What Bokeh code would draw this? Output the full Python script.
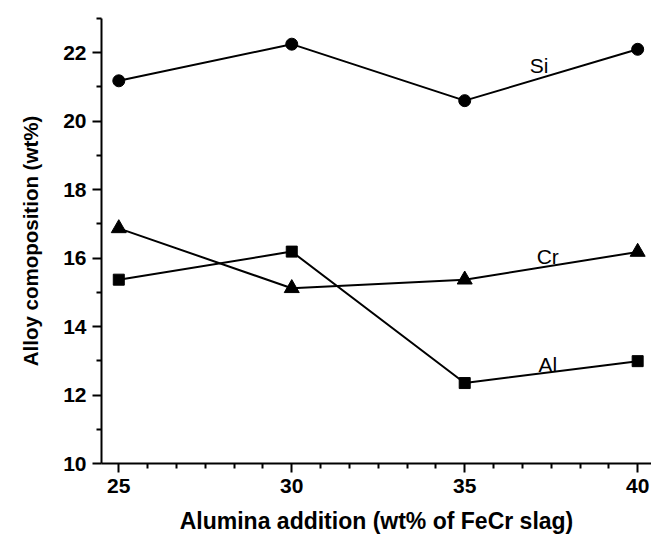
from bokeh.plotting import figure
from bokeh.models import FixedTicker, Range1d, ColumnDataSource
from bokeh.core.properties import value
from bokeh.embed import file_html
from bokeh.resources import INLINE

alumina = [25, 30, 35, 40]
si = [21.18, 22.25, 20.60, 22.10]
cr = [16.87, 15.12, 15.37, 16.18]
al = [15.37, 16.19, 12.35, 12.99]

series_names = ["Si", "Cr", "Al"]
label_x = [37.15, 37.4, 37.4]
label_y = [21.62, 16.05, 12.9]

x_major = [25, 30, 35, 40]
y_major = [10, 12, 14, 16, 18, 20, 22]

FONT = "Liberation Sans"

p = figure(width=651, height=537, output_backend="svg", toolbar_location=None,
           x_range=Range1d(24.5, 40.4), y_range=Range1d(10, 23),
           min_border_left=101, min_border_right=0, min_border_top=18,
           min_border_bottom=74)
p.outline_line_color = None
p.background_fill_color = "white"
p.border_fill_color = "white"
p.xgrid.visible = False
p.ygrid.visible = False

minor_x = [25 + 5 * k / 6 for k in range(0, 19) if k % 6 != 0]
p.xaxis.ticker = FixedTicker(ticks=x_major, minor_ticks=minor_x)
p.yaxis.ticker = FixedTicker(ticks=y_major, minor_ticks=[11, 13, 15, 17, 19, 21, 23])

for ax in (p.xaxis, p.yaxis):
    ax.axis_line_width = 2
    ax.axis_line_color = "black"
    ax.major_tick_line_width = 2
    ax.minor_tick_line_width = 2
    ax.major_tick_line_color = "black"
    ax.minor_tick_line_color = "black"
    ax.major_tick_out = 9
    ax.major_tick_in = 0
    ax.minor_tick_out = 5
    ax.minor_tick_in = 0
    ax.major_label_text_font = FONT
    ax.major_label_text_font_style = "bold"
    ax.major_label_text_font_size = "21px"
    ax.major_label_text_color = "black"
    ax.axis_label_text_font = FONT
    ax.axis_label_text_font_style = "bold"
    ax.axis_label_text_color = "black"

p.xaxis.axis_label_text_font_size = "23px"
p.yaxis.axis_label_text_font_size = "20.5px"
p.xaxis.axis_label = "Alumina addition (wt% of FeCr slag)"
p.yaxis.axis_label = "Alloy comoposition (wt%)"
p.xaxis.major_label_standoff = 6
p.xaxis.axis_label_standoff = 12
p.yaxis.major_label_standoff = 6
p.yaxis.axis_label_standoff = 18

src = ColumnDataSource(dict(x=alumina, si=si, cr=cr, al=al))

p.line("x", "si", source=src, line_color="black", line_width=2)
p.scatter("x", "si", source=src, marker="circle", size=12, fill_color="black", line_color="black")
p.line("x", "cr", source=src, line_color="black", line_width=2)
p.scatter("x", "cr", source=src, marker="triangle", size=15, fill_color="black", line_color="black")
p.line("x", "al", source=src, line_color="black", line_width=2)
p.scatter("x", "al", source=src, marker="square", size=11, fill_color="black", line_color="black")

lab = ColumnDataSource(dict(x=label_x, y=label_y, t=series_names))
p.text("x", "y", text="t", source=lab, text_font=value(FONT), text_font_size="21px",
       text_font_style="normal", text_color="black", text_align="center", text_baseline="middle")

open("out.html", "w").write(file_html(p, INLINE))
